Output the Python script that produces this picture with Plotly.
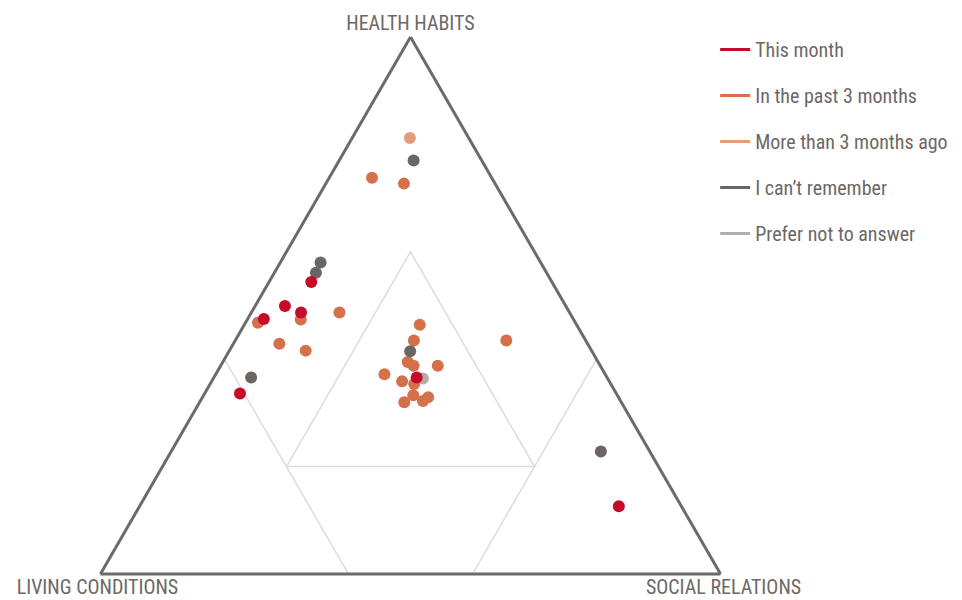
import plotly.graph_objects as go

# Ternary components: a = health habits, b = living conditions, c = social relations
series_names = ["This month", "In the past 3 months", "More than 3 months ago",
                "I can\u2019t remember", "Prefer not to answer"]
series_colors = ["#c60a2a", "#d4714b", "#e59c7b", "#6b6664", "#b5adaa"]

this_month_a = [0.544, 0.499, 0.487, 0.475, 0.336, 0.366, 0.126]
this_month_b = [0.388, 0.453, 0.433, 0.499, 0.607, 0.307, 0.101]
this_month_c = [0.068, 0.048, 0.080, 0.026, 0.057, 0.327, 0.773]

past3_a = [0.474, 0.468, 0.487, 0.429, 0.416, 0.464, 0.435, 0.395, 0.388, 0.388,
           0.372, 0.359, 0.354, 0.333, 0.329, 0.322, 0.320, 0.435, 0.738, 0.727]
past3_b = [0.440, 0.512, 0.371, 0.497, 0.461, 0.253, 0.277, 0.307, 0.301, 0.262,
           0.356, 0.334, 0.317, 0.329, 0.307, 0.319, 0.350, 0.128, 0.193, 0.147]
past3_c = [0.086, 0.020, 0.142, 0.074, 0.123, 0.283, 0.288, 0.298, 0.311, 0.350,
           0.272, 0.307, 0.329, 0.338, 0.364, 0.359, 0.330, 0.437, 0.069, 0.126]

older_a = [0.812]
older_b = [0.095]
older_c = [0.093]

cant_remember_a = [0.580, 0.561, 0.366, 0.415, 0.770, 0.228]
cant_remember_b = [0.355, 0.372, 0.574, 0.293, 0.110, 0.079]
cant_remember_c = [0.065, 0.067, 0.060, 0.292, 0.120, 0.693]

no_answer_a = [0.364]
no_answer_b = [0.298]
no_answer_c = [0.338]

# Guide lines dividing the triangle into zones (a, b, c per polyline)
guide_segments = [
    ([0.2, 0.6, 0.2, 0.2], [0.6, 0.2, 0.2, 0.6], [0.2, 0.2, 0.6, 0.2]),  # central zone
    ([0.4, 0.0], [0.6, 0.6], [0.0, 0.4]),                               # living-conditions zone
    ([0.4, 0.0], [0.0, 0.4], [0.6, 0.6]),                               # social-relations zone
]

FONT = "Liberation Sans Narrow, Roboto Condensed, Arial Narrow, Roboto, sans-serif"
TEXT = "#6d6866"
EDGE = "#6e6a67"

fig = go.Figure()

for a, b, c in guide_segments:
    fig.add_trace(go.Scatterternary(
        a=a, b=b, c=c, mode="lines",
        line=dict(color="#dcdcdc", width=1.5),
        hoverinfo="skip", showlegend=False))

points = {
    "In the past 3 months": (past3_a, past3_b, past3_c),
    "More than 3 months ago": (older_a, older_b, older_c),
    "Prefer not to answer": (no_answer_a, no_answer_b, no_answer_c),
    "I can\u2019t remember": (cant_remember_a, cant_remember_b, cant_remember_c),
    "This month": (this_month_a, this_month_b, this_month_c),
}
color_of = dict(zip(series_names, series_colors))

for name, (a, b, c) in points.items():
    fig.add_trace(go.Scatterternary(
        a=a, b=b, c=c, mode="markers", name=name,
        marker=dict(size=12, color=color_of[name], line=dict(width=0)),
        showlegend=False))

# Legend entries drawn as short line swatches
for rank, name in enumerate(series_names):
    fig.add_trace(go.Scatterternary(
        a=[None], b=[None], c=[None], mode="lines", name=name,
        line=dict(color=color_of[name], width=3),
        legendgroup=name, legendrank=rank + 1, showlegend=True))

axis_common = dict(showgrid=False, showticklabels=False, ticks="",
                   linecolor=EDGE, linewidth=3)
title_font = dict(size=20, color=TEXT)

fig.update_layout(
    width=962, height=600,
    margin=dict(l=0, r=0, t=0, b=0),
    paper_bgcolor="white",
    font=dict(family=FONT, color=TEXT, size=20),
    ternary=dict(
        sum=1,
        bgcolor="white",
        domain=dict(x=[0.0967, 0.7567], y=[0.0433, 0.9383]),
        aaxis=dict(title=dict(text="HEALTH HABITS", font=title_font), **axis_common),
        baxis=dict(title=dict(text="LIVING CONDITIONS", font=title_font), **axis_common),
        caxis=dict(title=dict(text="SOCIAL RELATIONS", font=title_font), **axis_common),
    ),
    legend=dict(
        x=0.7434, y=0.95, xanchor="left", yanchor="top",
        font=dict(family=FONT, size=20, color=TEXT),
        traceorder="grouped", tracegroupgap=17,
        bgcolor="rgba(0,0,0,0)",
    ),
    showlegend=True,
)

fig.write_html("out.html")
